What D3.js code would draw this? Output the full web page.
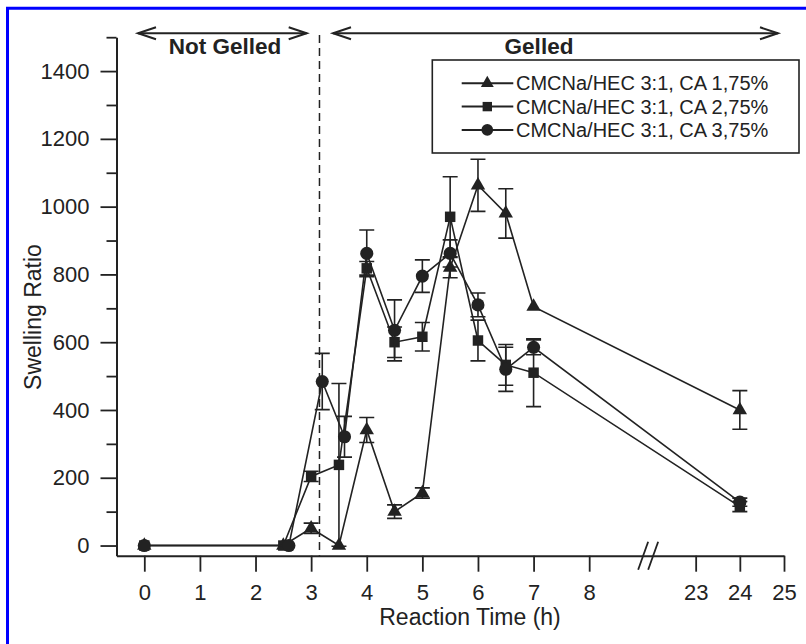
<!DOCTYPE html>
<html>
<head>
<meta charset="utf-8">
<script src="https://cdn.jsdelivr.net/npm/d3@7"></script>
<style>
  html, body { margin: 0; padding: 0; background: #fff; }
  svg { display: block; font-family: "Liberation Sans", Arial, sans-serif; }
</style>
</head>
<body>
<div id="chart"></div>
<script>
// Reaction time (h) for each series; the 3,75% series was sampled a bit later early on.
const TIME_175 = [0, 2.5, 3, 3.5, 4, 4.5, 5, 5.5, 6, 6.5, 7, 24];
const TIME_275 = [0, 2.5, 3, 3.5, 4, 4.5, 5, 5.5, 6, 6.5, 7, 24];
const TIME_375 = [0, 2.6, 3.2, 3.6, 4, 4.5, 5, 5.5, 6, 6.5, 7, 24];

const SWELL_175 = [0, 0, 51, 0, 341, 100, 155, 820, 1063, 980, 705, 400];
const SWELL_275 = [0, 0, 204, 238, 818, 600, 616, 970, 605, 533, 510, 115];
const SWELL_375 = [0, 0, 484, 321, 862, 635, 795, 862, 710, 520, 585, 128];

const ERR_175 = [0, 0, 15, 0, 37, 20, 15, 30, 77, 73, 0, 57];
const ERR_275 = [0, 0, 15, 240, 20, 45, 42, 118, 60, 60, 100, 15];
const ERR_375 = [0, 0, 83, 60, 69, 90, 48, 40, 35, 65, 22, 12];

const SERIES_LABELS = ['CMCNa/HEC 3:1, CA 1,75%', 'CMCNa/HEC 3:1, CA 2,75%', 'CMCNa/HEC 3:1, CA 3,75%'];
const X_TICKS = [0, 1, 2, 3, 4, 5, 6, 7, 8, 23, 24, 25];
const Y_TICKS = [0, 200, 400, 600, 800, 1000, 1200, 1400];
const Y_MINOR = [100, 300, 500, 700, 900, 1100, 1300, 1500];
const GEL_POINT = 3.15;

const W = 806, H = 644;
const INK = '#222';
const FONT = '"Liberation Sans", Arial, sans-serif';

const svg = d3.select('#chart').append('svg')
    .attr('width', W)
    .attr('height', H);

// frame left over from the scanned figure
svg.append('path')
    .attr('d', `M7.5,${H} V8.3 H${W}`)
    .attr('fill', 'none')
    .attr('stroke', '#0000ff')
    .attr('stroke-width', 3);

// broken time axis: 0-8 h then 23-25 h with a different pitch
const x = d3.scaleLinear()
    .domain([-0.5, 9, 22, 25])
    .range([116.5, 644.8, 651.5, 784]);
const y = d3.scaleLinear()
    .domain([-30, 1500])
    .range([555.7, 37.2]);

const series = [
    { t: TIME_175, v: SWELL_175, e: ERR_175, symbol: d3.symbolTriangle, size: 90 },
    { t: TIME_275, v: SWELL_275, e: ERR_275, symbol: d3.symbolSquare, size: 110 },
    { t: TIME_375, v: SWELL_375, e: ERR_375, symbol: d3.symbolCircle, size: 135 },
];

// axes
const yAxis = svg.append('g')
    .attr('transform', `translate(${x(-0.5)},0)`)
    .call(d3.axisLeft(y).tickValues(Y_TICKS).tickSize(16).tickPadding(11)
        .tickSizeOuter(0).tickFormat(d3.format('d')));
svg.append('g')
    .attr('transform', `translate(${x(-0.5)},0)`)
    .call(d3.axisLeft(y).tickValues(Y_MINOR).tickSize(10).tickFormat('').tickSizeOuter(0))
    .select('.domain').remove();

const xAxis = svg.append('g')
    .attr('transform', `translate(0,${y(-30)})`)
    .call(d3.axisBottom(x).tickValues(X_TICKS).tickSize(16).tickPadding(13)
        .tickSizeOuter(0).tickFormat(d3.format('d')));

[yAxis, xAxis].forEach(g => {
    g.attr('font-family', FONT);
    g.select('.domain').attr('stroke', INK).attr('stroke-width', 2);
    g.selectAll('.tick text').attr('fill', INK).style('font-size', '22px');
});
svg.selectAll('.tick line').attr('stroke', INK).attr('stroke-width', 1.8);

// axis break marks
const breakX = (x(9) + x(22)) / 2;
[-5, 5].forEach(dx => {
    svg.append('line')
        .attr('x1', breakX + dx - 5).attr('y1', y(-30) + 14)
        .attr('x2', breakX + dx + 5).attr('y2', y(-30) - 14)
        .attr('stroke', INK).attr('stroke-width', 1.8);
});

// axis titles
svg.append('text')
    .attr('x', 470)
    .attr('y', 625)
    .attr('text-anchor', 'middle')
    .attr('fill', INK)
    .style('font-size', '23px')
    .text('Reaction Time (h)');
svg.append('text')
    .attr('transform', 'translate(41,317) rotate(-90)')
    .attr('text-anchor', 'middle')
    .attr('fill', INK)
    .style('font-size', '23px')
    .text('Swelling Ratio');

// gel point marker
svg.append('line')
    .attr('x1', x(GEL_POINT)).attr('x2', x(GEL_POINT))
    .attr('y1', 35).attr('y2', y(-30))
    .attr('stroke', INK)
    .attr('stroke-width', 1.5)
    .attr('stroke-dasharray', '8,5');

// region arrows
function doubleArrow(x1, x2, yy) {
    const g = svg.append('g').attr('fill', 'none').attr('stroke', INK).attr('stroke-width', 2);
    g.append('line').attr('x1', x1).attr('x2', x2).attr('y1', yy).attr('y2', yy);
    g.append('path').attr('d', `M${x1 + 18},${yy - 6} L${x1},${yy} L${x1 + 18},${yy + 6}`);
    g.append('path').attr('d', `M${x2 - 18},${yy - 6} L${x2},${yy} L${x2 - 18},${yy + 6}`);
}
doubleArrow(138, 306.7, 33.3);
doubleArrow(333, 778, 33.3);

svg.append('text')
    .attr('x', 225).attr('y', 54.3)
    .attr('text-anchor', 'middle')
    .attr('font-weight', 'bold')
    .attr('fill', INK)
    .style('font-size', '22.5px')
    .text('Not Gelled');
svg.append('text')
    .attr('x', 539).attr('y', 54.3)
    .attr('text-anchor', 'middle')
    .attr('font-weight', 'bold')
    .attr('fill', INK)
    .style('font-size', '22.5px')
    .text('Gelled');

// data
const line = d3.line().x(d => x(d.t)).y(d => y(d.v));
const CAP = 7.5;

series.forEach(s => {
    const pts = s.t.map((t, i) => ({ t, v: s.v[i], e: s.e[i] }));
    const g = svg.append('g');

    g.append('path')
        .attr('d', line(pts))
        .attr('fill', 'none')
        .attr('stroke', INK)
        .attr('stroke-width', 1.6);

    g.selectAll('.err')
        .data(pts.filter(d => d.e > 0))
        .join('path')
        .attr('class', 'err')
        .attr('fill', 'none')
        .attr('stroke', INK)
        .attr('stroke-width', 1.6)
        .attr('d', d => {
            const cx = x(d.t), hi = y(d.v + d.e), lo = y(d.v - d.e);
            return `M${cx},${hi} V${lo} M${cx - CAP},${hi} H${cx + CAP} M${cx - CAP},${lo} H${cx + CAP}`;
        });

    g.selectAll('.mark')
        .data(pts)
        .join('path')
        .attr('class', 'mark')
        .attr('transform', d => `translate(${x(d.t)},${y(d.v)})`)
        .attr('d', d3.symbol().type(s.symbol).size(s.size))
        .attr('fill', INK);
});

// legend
const legend = svg.append('g');
legend.append('rect')
    .attr('x', 432.3).attr('y', 60)
    .attr('width', 366.7).attr('height', 93)
    .attr('fill', '#fff')
    .attr('stroke', INK)
    .attr('stroke-width', 1.6);

series.forEach((s, i) => {
    const cy = 83.3 + i * 23.3;
    const row = legend.append('g');
    row.append('line')
        .attr('x1', 461.7).attr('x2', 513.3)
        .attr('y1', cy).attr('y2', cy)
        .attr('stroke', INK).attr('stroke-width', 2);
    row.append('path')
        .attr('transform', `translate(487.3,${cy})`)
        .attr('d', d3.symbol().type(s.symbol).size(s.size * 0.8))
        .attr('fill', INK);
    row.append('text')
        .attr('x', 516).attr('y', cy + 7)
        .attr('fill', INK)
        .style('font-size', '20px')
        .text(SERIES_LABELS[i]);
});
</script>
</body>
</html>
